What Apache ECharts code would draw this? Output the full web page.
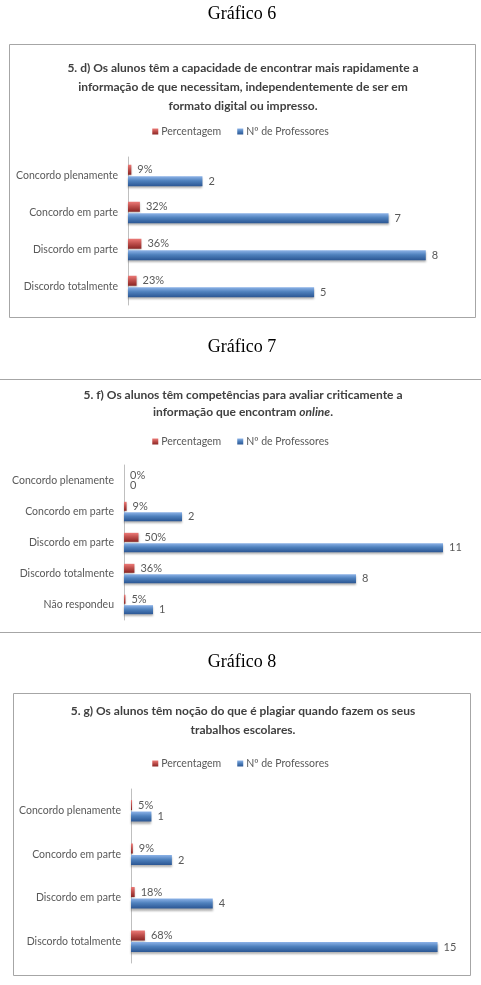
<!DOCTYPE html>
<html><head><meta charset="utf-8">
<script src="https://cdn.jsdelivr.net/npm/echarts@6/dist/echarts.min.js"></script>
<style>html,body{margin:0;padding:0;background:#fff}#c{width:481px;height:985px}</style>
</head><body><div id="c"></div>
<script>
// ---- data ----
const seriesNames = ['Percentagem', 'Nº de Professores'];
const captions = ['Gráfico 6', 'Gráfico 7', 'Gráfico 8'];

const cats6 = ['Concordo plenamente', 'Concordo em parte', 'Discordo em parte', 'Discordo totalmente'];
const pct6 = [0.09, 0.32, 0.36, 0.23];
const num6 = [2, 7, 8, 5];

const cats7 = ['Concordo plenamente', 'Concordo em parte', 'Discordo em parte', 'Discordo totalmente', 'Não respondeu'];
const pct7 = [0, 0.09, 0.50, 0.36, 0.05];
const num7 = [0, 2, 11, 8, 1];

const cats8 = ['Concordo plenamente', 'Concordo em parte', 'Discordo em parte', 'Discordo totalmente'];
const pct8 = [0.05, 0.09, 0.18, 0.68];
const num8 = [1, 2, 4, 15];

const title6 = ['5. d) Os alunos têm a capacidade de encontrar mais rapidamente a',
                'informação de que necessitam, independentemente de ser em',
                'formato digital ou impresso.'];
const title7 = ['5. f) Os alunos têm competências para avaliar criticamente a',
                'informação que encontram |online|.'];
const title8 = ['5. g) Os alunos têm noção do que é plagiar quando fazem os seus',
                'trabalhos escolares.'];

// ---- layout / style ----
const FONT = 'Lato, "Open Sans", sans-serif';
const GRAY = '#595959';
const blueGrad = new echarts.graphic.LinearGradient(0,0,0,1,[
  {offset:0,color:'#8db3e8'},{offset:0.45,color:'#4f81bd'},{offset:1,color:'#2b5693'}]);
const redGrad = new echarts.graphic.LinearGradient(0,0,0,1,[
  {offset:0,color:'#ec7a77'},{offset:0.45,color:'#c0504d'},{offset:1,color:'#8a2523'}]);

const charts = [
  {cats:cats6, pct:pct6, num:num6, title:title6, max:9, grid:{left:128,right:18,top:157,height:148}, titleY:[62,81,100], legendY:126, bw:10, box:{x:9.5,y:44.5,w:466,h:273}},
  {cats:cats7, pct:pct7, num:num7, title:title7, max:12, grid:{left:124,right:9,top:465,height:155}, titleY:[389,406], legendY:436, bw:9, box:{x:-5,y:379.5,w:491,h:253}},
  {cats:cats8, pct:pct8, num:num8, title:title8, max:16, grid:{left:131,right:23,top:789,height:174}, titleY:[705,724], legendY:758, bw:10, box:{x:13.5,y:693.5,w:457,h:282}}
];
const captionY = [5, 338, 653];

const option = {animation:false, title:[], legend:[], grid:[], xAxis:[], yAxis:[], series:[], graphic:[]};

charts.forEach((c, i) => {
  option.graphic.push({type:'rect', z:-1, shape:{x:c.box.x,y:c.box.y,width:c.box.w,height:c.box.h},
    style:{fill:'#fff', stroke:'#a6a6a6', lineWidth:1}});
  option.title.push({text:captions[i], left:242, textAlign:'center', top:captionY[i], padding:0,
    textStyle:{fontFamily:'"Liberation Serif", serif', fontSize:18, fontWeight:'normal', color:'#000'}});
  c.title.forEach((line, j) => {
    const parts = line.split('|');
    let txt = parts.map((p, k) => p ? (k % 2 ? '{i|' + p + '}' : '{b|' + p + '}') : '').join('');
    option.title.push({text:txt, left:243, textAlign:'center', top:c.titleY[j], padding:0,
      textStyle:{rich:{
        b:{fontFamily:FONT, fontSize:12, fontWeight:'bold', color:'#404040'},
        i:{fontFamily:FONT, fontSize:12, fontWeight:'bold', fontStyle:'italic', color:'#404040'}}}});
  });
  option.legend.push({data:seriesNames, left:'center', top:c.legendY, padding:0, itemWidth:6, itemHeight:6,
    itemGap:16, icon:'rect', textStyle:{fontFamily:FONT, fontSize:10.5, color:GRAY, padding:[0,0,0,-2]}});
  option.grid.push(c.grid);
  option.xAxis.push({type:'value', gridIndex:i, min:0, max:c.max, show:false});
  option.yAxis.push({type:'category', gridIndex:i, data:c.cats, inverse:true,
    axisLine:{show:true, lineStyle:{color:'#bfbfbf'}}, axisTick:{show:false},
    axisLabel:{fontFamily:FONT, fontSize:10.5, color:GRAY, margin:10}});
  const common = {type:'bar', xAxisIndex:i, yAxisIndex:i, barWidth:c.bw, barGap:'15%'};
  option.series.push(Object.assign({}, common, {name:seriesNames[0], data:c.pct,
    itemStyle:{color:redGrad, shadowColor:'rgba(0,0,0,0.25)', shadowBlur:2, shadowOffsetY:1},
    label:{show:true, position:'right', distance:6, fontFamily:FONT, fontSize:11, color:GRAY,
      formatter:p => Math.round(p.value*100) + '%'}}));
  option.series.push(Object.assign({}, common, {name:seriesNames[1], data:c.num,
    itemStyle:{color:blueGrad, shadowColor:'rgba(0,0,0,0.3)', shadowBlur:2, shadowOffsetY:2},
    label:{show:true, position:'right', distance:6, fontFamily:FONT, fontSize:11, color:GRAY}}));
});

const chart = echarts.init(document.getElementById('c'));
chart.setOption(option);
</script></body></html>
